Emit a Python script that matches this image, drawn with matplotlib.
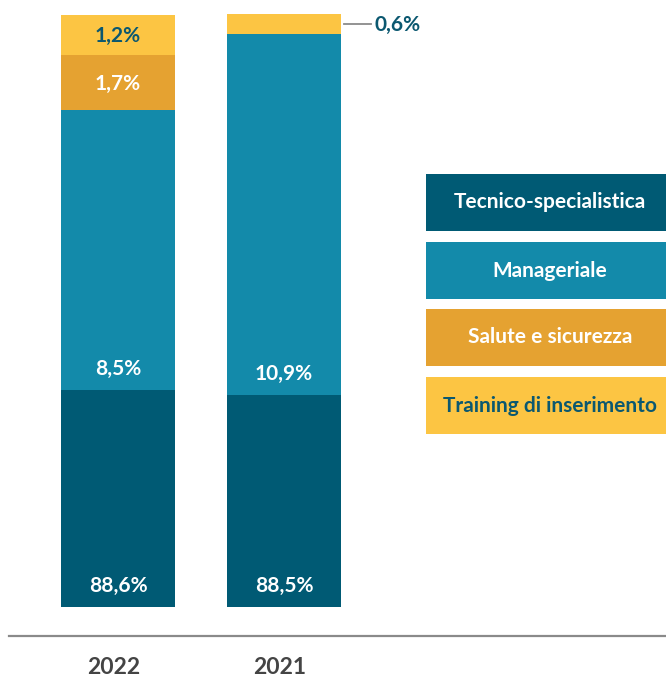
import numpy as np
import matplotlib.pyplot as plt
from matplotlib.patches import Rectangle

plt.rcParams['font.family'] = ['Lato', 'DejaVu Sans']

# dati
years = ['2022', '2021']
categories = ['Tecnico-specialistica', 'Manageriale', 'Salute e sicurezza', 'Training di inserimento']
labels_2022 = ['88,6%', '8,5%', '1,7%', '1,2%']
labels_2021 = ['88,5%', '10,9%', '', '0,6%']
# altezze dei segmenti come appaiono nel grafico (non proporzionali)
heights_2022 = [217, 280, 55, 40]
heights_2021 = [212, 361, 0, 20]

colors = ['#005A74', '#138AAA', '#E5A231', '#FCC543']
text_colors = ['white', 'white', 'white', '#0B5870']

fig = plt.figure(figsize=(6.66, 6.78), dpi=100)
ax = fig.add_axes([0, 0, 1, 1])
ax.set_xlim(-0.711, 3.301)
ax.set_ylim(-71, 607)
ax.axis('off')

x = np.arange(len(years))
width = 0.687
bottoms = np.zeros(len(years))
all_heights = np.array([heights_2022, heights_2021]).T
all_labels = [labels_2022, labels_2021]

for i, cat in enumerate(categories):
    h = all_heights[i]
    ax.bar(x, h, width, bottom=bottoms, color=colors[i], linewidth=0)
    for j in range(len(years)):
        lab = all_labels[j][i]
        if lab == '' or h[j] == 0:
            continue
        if h[j] < 30:
            # etichetta esterna con linea
            yc = bottoms[j] + h[j] / 2
            ax.plot([x[j] + width / 2 + 0.02, x[j] + width / 2 + 0.18], [yc, yc],
                    color='#8a8a8a', lw=1.3)
            ax.text(x[j] + width / 2 + 0.2, yc - 1, lab, ha='left', va='center',
                    fontsize=15, fontweight='bold', color='#0B5870')
        elif h[j] > 100:
            ax.text(x[j], bottoms[j] + 21, lab, ha='center', va='center',
                    fontsize=15, fontweight='bold', color=text_colors[i])
        else:
            ax.text(x[j], bottoms[j] + h[j] / 2 - 1, lab, ha='center', va='center',
                    fontsize=15, fontweight='bold', color=text_colors[i])
    bottoms = bottoms + h

# linea di base e anni
ax.axhline(-29, xmin=9 / 666, xmax=1, color='#8a8a8a', lw=1.6)
for j, yr in enumerate(years):
    ax.text(x[j] - 0.025, -61, yr, ha='center', va='center', fontsize=16.5,
            fontweight='bold', color='#444444')

# legenda a riquadri
box_tops = [174, 242, 309, 377]
for i, cat in enumerate(categories):
    top = box_tops[i]
    fig.patches.append(Rectangle((426 / 666, 1 - (top + 57) / 678), 240 / 666, 57 / 678,
                                 transform=fig.transFigure, color=colors[i], lw=0))
    fig.text(550 / 666, 1 - (top + 28.5) / 678, cat, ha='center', va='center',
             fontsize=15, fontweight='bold', color=text_colors[i])

fig.savefig('out.png', dpi=100)
